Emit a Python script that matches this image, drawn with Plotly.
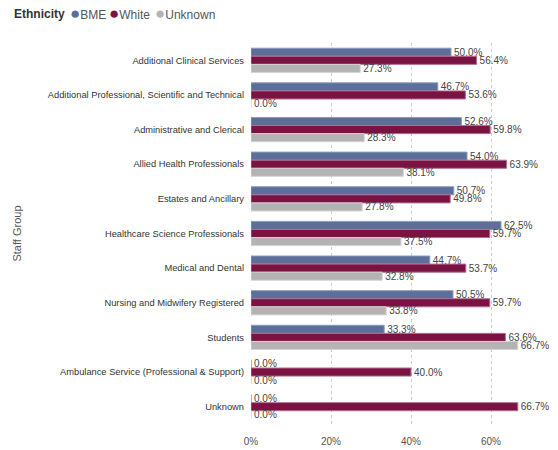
import plotly.graph_objects as go

staff_groups = [
    "Additional Clinical Services",
    "Additional Professional, Scientific and Technical",
    "Administrative and Clerical",
    "Allied Health Professionals",
    "Estates and Ancillary",
    "Healthcare Science Professionals",
    "Medical and Dental",
    "Nursing and Midwifery Registered",
    "Students",
    "Ambulance Service (Professional & Support)",
    "Unknown",
]
bme = [50.0, 46.7, 52.6, 54.0, 50.7, 62.5, 44.7, 50.5, 33.3, 0.0, 0.0]
white = [56.4, 53.6, 59.8, 63.9, 49.8, 59.7, 53.7, 59.7, 63.6, 40.0, 66.7]
unknown = [27.3, 0.0, 28.3, 38.1, 27.8, 37.5, 32.8, 33.8, 66.7, 0.0, 0.0]

series = [
    ("BME", bme, "#5b6f9a", "#8d9cc0"),
    ("White", white, "#7a1242", "#b0708f"),
    ("Unknown", unknown, "#b3b3b3", "#d4d4d4"),
]

FONT = "Liberation Sans, Arial, sans-serif"
W, H = 558, 450
ML, MR, MT, MB = 251, 0, 43, 26
PLOT_W = W - ML - MR
PLOT_H = H - MT - MB


def px_to_paper_x(px):
    return (px - ML) / PLOT_W


def px_to_paper_y(py):
    return (H - MB - py) / PLOT_H


fig = go.Figure()
for name, vals, color, edge in series:
    fig.add_trace(go.Bar(
        name=name,
        y=staff_groups,
        x=[v / 100 for v in vals],
        orientation="h",
        marker=dict(color=color, line=dict(color=edge, width=1)),
        text=[f"{v:.1f}%" for v in vals],
        textposition="outside",
        constraintext="none",
        cliponaxis=False,
        textfont=dict(family=FONT, size=10, color="#444444"),
        showlegend=False,
        hoverinfo="skip",
    ))

# Header legend: bold title followed by round swatches
legend_items = [("<b>Ethnicity</b>", 12, "#333333")]
legend_x = [68, 107, 153]
for (name, vals, color, edge), lx in zip(series, legend_x):
    legend_items.append(
        (f"<span style='color:{color};font-size:17px'>\u25cf</span>{name}",
         lx, "#555555")
    )

annotations = [
    dict(
        text=text,
        x=px_to_paper_x(lx), y=px_to_paper_y(14),
        xref="paper", yref="paper",
        xanchor="left", yanchor="middle",
        showarrow=False,
        font=dict(family=FONT, size=12, color=col),
    )
    for text, lx, col in legend_items
]

fig.update_layout(
    width=W,
    height=H,
    margin=dict(l=ML, r=MR, t=MT, b=MB, autoexpand=False),
    paper_bgcolor="white",
    plot_bgcolor="white",
    barmode="group",
    bargap=0.3,
    bargroupgap=0.0,
    showlegend=False,
    font=dict(family=FONT, size=11, color="#444444"),
    annotations=annotations,
    xaxis=dict(
        range=[0, 0.7675],
        tickvals=[0, 0.2, 0.4, 0.6],
        tickformat=".0%",
        showgrid=True,
        gridcolor="#cccccc",
        griddash="dot",
        gridwidth=1,
        zeroline=False,
        showline=False,
        ticks="",
        ticklabelstandoff=10,
        tickfont=dict(family=FONT, size=10, color="#555555"),
    ),
    yaxis=dict(
        autorange="reversed",
        showgrid=False,
        zeroline=False,
        showline=False,
        ticks="",
        ticklabelstandoff=6,
        tickfont=dict(family=FONT, size=9.3, color="#333333"),
        title=dict(text="Staff Group", standoff=23,
                   font=dict(family=FONT, size=11, color="#555555")),
    ),
)

fig.write_html("out.html")
